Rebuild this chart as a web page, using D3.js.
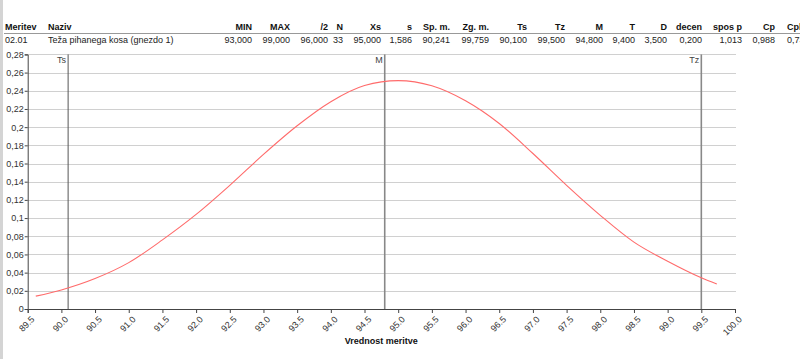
<!DOCTYPE html>
<html lang="sl">
<head>
<meta charset="utf-8">
<title>Vrednost meritve</title>
<script src="https://cdn.jsdelivr.net/npm/d3@7"></script>
<style>
  body { margin: 0; background: #fff; }
  svg { display: block; font-family: "Liberation Sans", Arial, sans-serif; }
</style>
</head>
<body>
<script>
// table above the chart
var headers = ["Meritev", "Naziv", "MIN", "MAX", "/2", "N", "Xs", "s", "Sp. m.", "Zg. m.",
               "Ts", "Tz", "M", "T", "D", "decen", "spos p", "Cp", "Cpk"];
var row = ["02.01", "Teža pihanega kosa (gnezdo 1)", "93,000", "99,000", "96,000", "33", "95,000",
           "1,586", "90,241", "99,759", "90,100", "99,500", "94,800", "9,400", "3,500", "0,200",
           "1,013", "0,988", "0,736"];

// distribution curve
var curveX = [89.62, 90.0, 90.5, 91.0, 91.5, 92.0, 92.5, 93.0, 93.5, 94.0, 94.5,
              95.0, 95.5, 96.0, 96.5, 97.0, 97.5, 98.0, 98.5, 99.0, 99.5, 99.73];
var curveY = [0.0142, 0.021, 0.0335, 0.051, 0.076, 0.104, 0.136, 0.170, 0.2015, 0.228, 0.2458,
              0.2512, 0.2455, 0.229, 0.204, 0.171, 0.136, 0.103, 0.0735, 0.0525, 0.0343, 0.0275];

// marker lines
var markerNames = ["Ts", "M", "Tz"];
var markerValues = [90.1, 94.8, 99.5];

var xTicks = [89.5, 90.0, 90.5, 91.0, 91.5, 92.0, 92.5, 93.0, 93.5, 94.0, 94.5,
              95.0, 95.5, 96.0, 96.5, 97.0, 97.5, 98.0, 98.5, 99.0, 99.5, 100.0];
var yTicks = [0, 0.02, 0.04, 0.06, 0.08, 0.1, 0.12, 0.14, 0.16, 0.18, 0.2, 0.22, 0.24, 0.26, 0.28];

var w = 800, h = 359;
var plotLeft = 27.7, plotRight = 735, plotTop = 54.4, plotBottom = 309;

var svg = d3.select("body").append("svg")
  .attr("width", w)
  .attr("height", h);

// grey strip on the left edge
svg.append("rect")
  .attr("x", 0).attr("y", 0)
  .attr("width", 3).attr("height", h)
  .attr("fill", "#d4d4d4");

// table: first two columns left aligned, the rest right aligned
var colX = [5, 48, 252, 290, 328, 343, 381, 412, 450, 489, 527, 565, 603, 635, 667, 702, 742, 775, 787];
function anchor(i) { return (i < 2 || i == 18) ? "start" : "end"; }

svg.append("g").selectAll("text")
  .data(headers)
  .enter().append("text")
  .attr("x", function(d, i) { return colX[i]; })
  .attr("y", 30)
  .attr("text-anchor", function(d, i) { return anchor(i); })
  .attr("font-size", "9px")
  .attr("font-weight", "bold")
  .attr("fill", "#111")
  .text(function(d) { return d; });

svg.append("line")
  .attr("x1", 4).attr("x2", w)
  .attr("y1", 33.5).attr("y2", 33.5)
  .attr("stroke", "#999");

svg.append("g").selectAll("text")
  .data(row)
  .enter().append("text")
  .attr("x", function(d, i) { return colX[i]; })
  .attr("y", 42.5)
  .attr("text-anchor", function(d, i) { return anchor(i); })
  .attr("font-size", "9px")
  .attr("fill", "#222")
  .text(function(d) { return d; });

// scales
var xScale = d3.scaleLinear().domain([89.5, 100]).range([plotLeft, plotRight]);
var yScale = d3.scaleLinear().domain([0, 0.28]).range([plotBottom, plotTop]);

// grid
svg.append("g").selectAll("line")
  .data(yTicks.filter(function(d) { return d > 0; }))
  .enter().append("line")
  .attr("x1", plotLeft).attr("x2", plotRight + 1)
  .attr("y1", function(d) { return Math.round(yScale(d)) + 0.5; })
  .attr("y2", function(d) { return Math.round(yScale(d)) + 0.5; })
  .attr("stroke", "#d0d0d0");

// y axis
var yAxis = d3.axisLeft(yScale)
  .tickValues(yTicks)
  .tickSize(3)
  .tickFormat(function(d) { return String(+d.toFixed(2)).replace(".", ","); });

var gy = svg.append("g")
  .attr("transform", "translate(" + plotLeft + ",0)")
  .call(yAxis);
gy.select(".domain").attr("stroke", "#444");
gy.selectAll(".tick line").attr("stroke", "#444");
gy.selectAll("text")
  .attr("font-family", "Liberation Sans, Arial, sans-serif")
  .attr("font-size", "9px")
  .attr("fill", "#333")
  .attr("x", -4);

// x axis
var xAxis = d3.axisBottom(xScale)
  .tickValues(xTicks)
  .tickSize(4)
  .tickFormat(d3.format(".1f"));

var gx = svg.append("g")
  .attr("transform", "translate(0," + plotBottom + ")")
  .call(xAxis);
gx.select(".domain").attr("stroke", "#444");
gx.selectAll(".tick line").attr("stroke", "#444");
gx.selectAll("text")
  .attr("font-family", "Liberation Sans, Arial, sans-serif")
  .attr("font-size", "9px")
  .attr("fill", "#333")
  .attr("text-anchor", "end")
  .attr("dx", "0")
  .attr("dy", "0")
  .attr("transform", "translate(2,6) rotate(-45)");

svg.append("text")
  .attr("x", (plotLeft + plotRight) / 2)
  .attr("y", 344)
  .attr("text-anchor", "middle")
  .attr("font-size", "9px")
  .attr("font-weight", "bold")
  .attr("fill", "#111")
  .text("Vrednost meritve");

// marker lines
var markers = svg.append("g").selectAll("g")
  .data(markerValues)
  .enter().append("g");

markers.append("line")
  .attr("x1", function(d) { return xScale(d); })
  .attr("x2", function(d) { return xScale(d); })
  .attr("y1", plotTop)
  .attr("y2", plotBottom)
  .attr("stroke", function(d, i) { return i == 0 ? "#555" : "#888"; })
  .attr("stroke-width", function(d, i) { return i == 0 ? 1 : 1.6; });

markers.append("text")
  .attr("x", function(d) { return xScale(d) - 2; })
  .attr("y", plotTop + 9)
  .attr("text-anchor", "end")
  .attr("font-size", "9px")
  .attr("fill", "#444")
  .text(function(d, i) { return markerNames[i]; });

// curve
var line = d3.line()
  .x(function(d, i) { return xScale(curveX[i]); })
  .y(function(d) { return yScale(d); })
  .curve(d3.curveMonotoneX);

svg.append("path")
  .datum(curveY)
  .attr("d", line)
  .attr("fill", "none")
  .attr("stroke", "#ff6b6b")
  .attr("stroke-width", 1.1);
</script>
</body>
</html>
